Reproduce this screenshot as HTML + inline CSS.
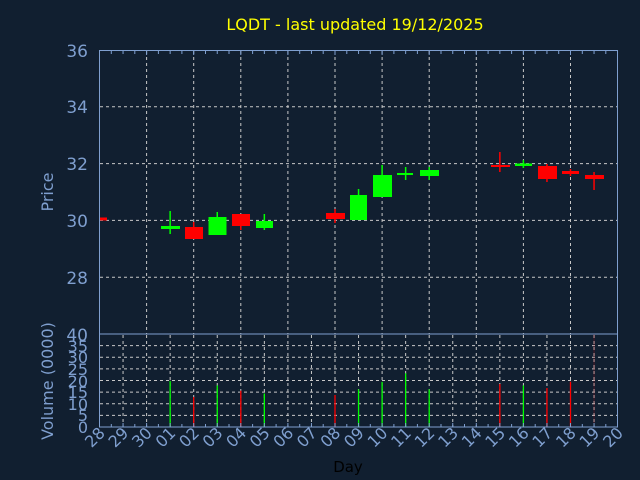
<!DOCTYPE html>
<html><head><meta charset="utf-8"><style>
html,body{margin:0;padding:0;background:#111f30;}
svg{display:block;font-family:"DejaVu Sans","Liberation Sans",sans-serif;}
</style></head><body>
<svg width="640" height="480" viewBox="0 0 640 480">
<rect width="640" height="480" fill="#111f30"/>
<text x="355" y="30" fill="#ffff00" font-size="16" text-anchor="middle">LQDT - last updated 19/12/2025</text>
<g stroke="#c8c8c8" stroke-width="1" stroke-dasharray="3,3">
<line x1="100" x2="617" y1="106.8" y2="106.8"/><line x1="100" x2="617" y1="163.6" y2="163.6"/>
<line x1="100" x2="617" y1="220.4" y2="220.4"/><line x1="100" x2="617" y1="277.2" y2="277.2"/>
<line x1="146.6" x2="146.6" y1="51" y2="334"/><line x1="193.7" x2="193.7" y1="51" y2="334"/>
<line x1="240.8" x2="240.8" y1="51" y2="334"/><line x1="287.9" x2="287.9" y1="51" y2="334"/>
<line x1="335" x2="335" y1="51" y2="334"/><line x1="382.1" x2="382.1" y1="51" y2="334"/>
<line x1="429.2" x2="429.2" y1="51" y2="334"/><line x1="476.3" x2="476.3" y1="51" y2="334"/>
<line x1="523.4" x2="523.4" y1="51" y2="334"/><line x1="570.5" x2="570.5" y1="51" y2="334"/>
<line x1="100" x2="617" y1="415.4" y2="415.4"/><line x1="100" x2="617" y1="403.75" y2="403.75"/>
<line x1="100" x2="617" y1="392.1" y2="392.1"/><line x1="100" x2="617" y1="380.5" y2="380.5"/>
<line x1="100" x2="617" y1="368.9" y2="368.9"/><line x1="100" x2="617" y1="357.25" y2="357.25"/>
<line x1="100" x2="617" y1="345.6" y2="345.6"/>
<line x1="123.05" x2="123.05" y1="335" y2="427"/><line x1="146.6" x2="146.6" y1="335" y2="427"/>
<line x1="170.15" x2="170.15" y1="335" y2="427"/><line x1="193.7" x2="193.7" y1="335" y2="427"/>
<line x1="217.25" x2="217.25" y1="335" y2="427"/><line x1="240.8" x2="240.8" y1="335" y2="427"/>
<line x1="264.35" x2="264.35" y1="335" y2="427"/><line x1="287.9" x2="287.9" y1="335" y2="427"/>
<line x1="311.45" x2="311.45" y1="335" y2="427"/><line x1="335" x2="335" y1="335" y2="427"/>
<line x1="358.55" x2="358.55" y1="335" y2="427"/><line x1="382.1" x2="382.1" y1="335" y2="427"/>
<line x1="405.65" x2="405.65" y1="335" y2="427"/><line x1="429.2" x2="429.2" y1="335" y2="427"/>
<line x1="452.75" x2="452.75" y1="335" y2="427"/><line x1="476.3" x2="476.3" y1="335" y2="427"/>
<line x1="499.85" x2="499.85" y1="335" y2="427"/><line x1="523.4" x2="523.4" y1="335" y2="427"/>
<line x1="546.95" x2="546.95" y1="335" y2="427"/><line x1="570.5" x2="570.5" y1="335" y2="427"/>
<line x1="594.05" x2="594.05" y1="335" y2="427"/>
</g>
<!-- candles -->
<g stroke-width="1.5">
<rect x="100" y="217.5" width="7" height="3" fill="#ff0000"/>
<line x1="170.15" x2="170.15" y1="211" y2="234" stroke="#00ff00"/><rect x="161" y="226" width="19" height="3" fill="#00ff00"/>
<line x1="193.7" x2="193.7" y1="222" y2="239" stroke="#ff0000"/><rect x="185" y="227" width="18" height="12" fill="#ff0000"/>
<line x1="217.25" x2="217.25" y1="212" y2="235" stroke="#00ff00"/><rect x="208.5" y="217" width="18" height="18" fill="#00ff00"/>
<line x1="240.8" x2="240.8" y1="214" y2="230" stroke="#ff0000"/><rect x="232" y="214" width="18" height="12" fill="#ff0000"/>
<line x1="264.35" x2="264.35" y1="214" y2="230" stroke="#00ff00"/><rect x="256" y="221" width="17" height="7" fill="#00ff00"/>
<line x1="335" x2="335" y1="209" y2="223" stroke="#ff0000"/><rect x="326" y="213" width="19" height="6" fill="#ff0000"/>
<line x1="358.55" x2="358.55" y1="189" y2="220" stroke="#00ff00"/><rect x="350" y="195" width="17" height="25" fill="#00ff00"/>
<line x1="382.1" x2="382.1" y1="165" y2="197" stroke="#00ff00"/><rect x="373" y="175" width="19" height="22" fill="#00ff00"/>
<line x1="405.65" x2="405.65" y1="167" y2="180" stroke="#00ff00"/><rect x="397" y="173" width="16" height="2" fill="#00ff00"/>
<line x1="429.2" x2="429.2" y1="167" y2="180" stroke="#00ff00"/><rect x="420" y="170" width="19" height="6" fill="#00ff00"/>
<line x1="499.85" x2="499.85" y1="152" y2="172" stroke="#ff0000"/><rect x="491" y="165" width="19" height="2" fill="#ff0000"/>
<line x1="523.4" x2="523.4" y1="160" y2="168" stroke="#00ff00"/><rect x="515" y="163.5" width="17" height="2.5" fill="#00ff00"/>
<line x1="546.95" x2="546.95" y1="164" y2="182" stroke="#ff0000"/><rect x="538" y="166" width="19" height="13" fill="#ff0000"/>
<line x1="570.5" x2="570.5" y1="169" y2="176" stroke="#ff0000"/><rect x="562" y="171" width="17" height="3" fill="#ff0000"/>
<line x1="594.05" x2="594.05" y1="172" y2="190" stroke="#ff0000"/><rect x="585" y="175" width="19" height="4" fill="#ff0000"/>
</g>
<!-- volume -->
<g stroke-width="1.3">
<line x1="170.15" x2="170.15" y1="381" y2="427" stroke="#00ff00"/>
<line x1="193.7" x2="193.7" y1="397" y2="427" stroke="#ff0000"/>
<line x1="217.25" x2="217.25" y1="385.4" y2="427" stroke="#00ff00"/>
<line x1="240.8" x2="240.8" y1="390.7" y2="427" stroke="#ff0000"/>
<line x1="264.35" x2="264.35" y1="393.5" y2="427" stroke="#00ff00"/>
<line x1="335" x2="335" y1="395" y2="427" stroke="#ff0000"/>
<line x1="358.55" x2="358.55" y1="389.3" y2="427" stroke="#00ff00"/>
<line x1="382.1" x2="382.1" y1="381.9" y2="427" stroke="#00ff00"/>
<line x1="405.65" x2="405.65" y1="373.3" y2="427" stroke="#00ff00"/>
<line x1="429.2" x2="429.2" y1="389.3" y2="427" stroke="#00ff00"/>
<line x1="499.85" x2="499.85" y1="384" y2="427" stroke="#ff0000"/>
<line x1="523.4" x2="523.4" y1="385.4" y2="427" stroke="#00ff00"/>
<line x1="546.95" x2="546.95" y1="388" y2="427" stroke="#ff0000"/>
<line x1="570.5" x2="570.5" y1="381.7" y2="427" stroke="#ff0000"/>
<line x1="594.05" x2="594.05" y1="334" y2="427" stroke="#ff0000" stroke-width="0.6" opacity="0.4"/>
</g>
<!-- axes -->
<g stroke="#7f9fcf" fill="none" stroke-width="1">
<rect x="99.5" y="50.5" width="518" height="283.5"/>
<rect x="99.5" y="334" width="518" height="93"/>
<path d="M111.3 51v3M123.05 51v3M134.8 51v3M146.6 51v4M158.4 51v3M170.15 51v3M181.9 51v3M193.7 51v4M205.5 51v3M217.25 51v3M229 51v3M240.8 51v4M252.6 51v3M264.35 51v3M276.1 51v3M287.9 51v4M299.7 51v3M311.45 51v3M323.2 51v3M335 51v4M346.8 51v3M358.55 51v3M370.3 51v3M382.1 51v4M393.9 51v3M405.65 51v3M417.4 51v3M429.2 51v4M441 51v3M452.75 51v3M464.5 51v3M476.3 51v4M488.1 51v3M499.85 51v3M511.6 51v3M523.4 51v4M535.2 51v3M546.95 51v3M558.7 51v3M570.5 51v4M582.3 51v3M594.05 51v3M605.8 51v3"/>
<path d="M111.3 427v-3M123.05 427v-4M134.8 427v-3M146.6 427v-4M158.4 427v-3M170.15 427v-4M181.9 427v-3M193.7 427v-4M205.5 427v-3M217.25 427v-4M229 427v-3M240.8 427v-4M252.6 427v-3M264.35 427v-4M276.1 427v-3M287.9 427v-4M299.7 427v-3M311.45 427v-4M323.2 427v-3M335 427v-4M346.8 427v-3M358.55 427v-4M370.3 427v-3M382.1 427v-4M393.9 427v-3M405.65 427v-4M417.4 427v-3M429.2 427v-4M441 427v-3M452.75 427v-4M464.5 427v-3M476.3 427v-4M488.1 427v-3M499.85 427v-4M511.6 427v-3M523.4 427v-4M535.2 427v-3M546.95 427v-4M558.7 427v-3M570.5 427v-4M582.3 427v-3M594.05 427v-4M605.8 427v-3"/>
</g>
<g fill="#7f9fcf" font-size="17" text-anchor="end">
<text x="88" y="57">36</text><text x="88" y="113">34</text><text x="88" y="170">32</text>
<text x="88" y="227">30</text><text x="88" y="284">28</text><text x="88" y="341">40</text>
</g>
<g fill="#7f9fcf" font-size="16" text-anchor="end">
<text x="88" y="352">35</text><text x="88" y="363">30</text><text x="88" y="375">25</text>
<text x="88" y="387">20</text><text x="88" y="398">15</text><text x="88" y="410">10</text>
<text x="88" y="421">5</text><text x="88" y="433">0</text>
</g>
<text transform="translate(53,192) rotate(-90)" fill="#7f9fcf" font-size="16" text-anchor="middle">Price</text>
<text transform="translate(53,381) rotate(-90)" fill="#7f9fcf" font-size="16" text-anchor="middle">Volume (0000)</text>
<g fill="#7f9fcf" font-size="16" text-anchor="end">
<text transform="translate(106,434) rotate(-45)">28</text>
<text transform="translate(129.5,434) rotate(-45)">29</text>
<text transform="translate(153,434) rotate(-45)">30</text>
<text transform="translate(176.6,434) rotate(-45)">01</text>
<text transform="translate(200.2,434) rotate(-45)">02</text>
<text transform="translate(223.7,434) rotate(-45)">03</text>
<text transform="translate(247.3,434) rotate(-45)">04</text>
<text transform="translate(270.8,434) rotate(-45)">05</text>
<text transform="translate(294.4,434) rotate(-45)">06</text>
<text transform="translate(317.9,434) rotate(-45)">07</text>
<text transform="translate(341.5,434) rotate(-45)">08</text>
<text transform="translate(365,434) rotate(-45)">09</text>
<text transform="translate(388.6,434) rotate(-45)">10</text>
<text transform="translate(412.1,434) rotate(-45)">11</text>
<text transform="translate(435.7,434) rotate(-45)">12</text>
<text transform="translate(459.2,434) rotate(-45)">13</text>
<text transform="translate(482.8,434) rotate(-45)">14</text>
<text transform="translate(506.3,434) rotate(-45)">15</text>
<text transform="translate(529.9,434) rotate(-45)">16</text>
<text transform="translate(553.4,434) rotate(-45)">17</text>
<text transform="translate(577,434) rotate(-45)">18</text>
<text transform="translate(600.5,434) rotate(-45)">19</text>
<text transform="translate(624.1,434) rotate(-45)">20</text>
</g>
<text x="348" y="472" fill="#000000" font-size="15" text-anchor="middle">Day</text>
</svg>
</body></html>
